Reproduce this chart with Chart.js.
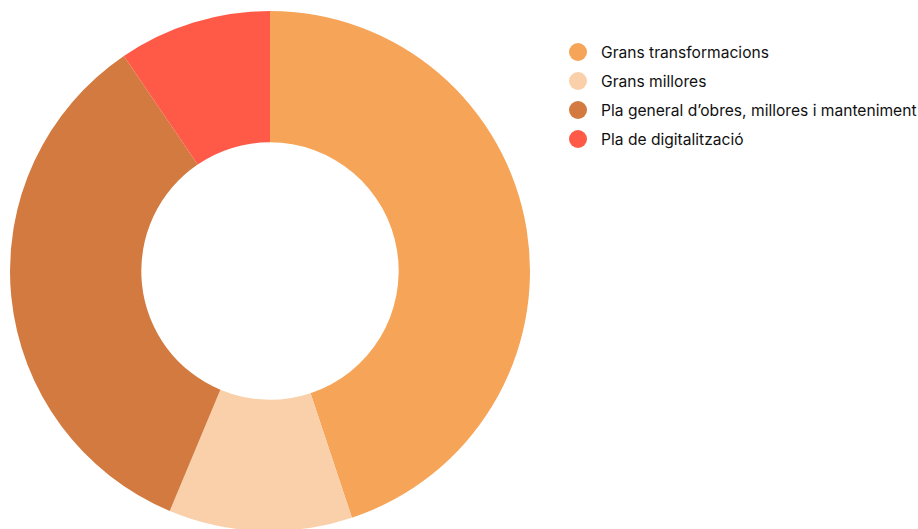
<!DOCTYPE html>
<html lang="ca">
<head>
<meta charset="utf-8">
<title>Inversions</title>
<script src="https://cdn.jsdelivr.net/npm/chart.js@4.4.1/dist/chart.umd.min.js"></script>
<style>
  html, body { margin: 0; padding: 0; background: #fff; overflow: hidden; }
  body { width: 918px; height: 529px; position: relative; font-family: Inter, "Liberation Sans", Arial, sans-serif; }
  #chart-wrap { position: absolute; left: 0; top: 0; width: 540px; height: 542px; }
  #legend { position: absolute; left: 569px; top: 38px; margin: 0; padding: 0; list-style: none; }
  #legend li { display: flex; align-items: center; height: 28.9px; font-size: 15.6px; color: #111; white-space: nowrap; }
  #legend .dot { width: 18px; height: 18px; border-radius: 50%; margin-right: 14px; flex: none; }
</style>
</head>
<body>
<div id="chart-wrap"><canvas id="donut" width="540" height="542"></canvas></div>
<ul id="legend"></ul>
<script>
// Distribució (percentatge aproximat llegit del gràfic)
const categories = [
  'Grans transformacions',
  'Grans millores',
  'Pla general d’obres, millores i manteniment',
  'Pla de digitalització'
];
const shares = [44.9, 11.4, 34.2, 9.5];
const sliceColors = ['#F6A457', '#F9D0A9', '#D27A3F', '#FF5A47'];

document.addEventListener('DOMContentLoaded', () => {
  const chart = new Chart(document.getElementById('donut'), {
    type: 'doughnut',
    data: {
      labels: categories,
      datasets: [{
        data: shares,
        backgroundColor: sliceColors,
        borderWidth: 0,
        hoverOffset: 0
      }]
    },
    options: {
      responsive: false,
      animation: false,
      radius: 260,
      cutout: '49.5%',
      layout: { padding: 0 },
      plugins: {
        legend: { display: false },
        tooltip: { enabled: false }
      }
    }
  });

  // legend built from the chart's own labels
  const legend = document.getElementById('legend');
  chart.options.plugins.legend.labels.generateLabels(chart).forEach(item => {
    const li = document.createElement('li');
    const dot = document.createElement('span');
    dot.className = 'dot';
    dot.style.background = item.fillStyle;
    li.appendChild(dot);
    li.appendChild(document.createTextNode(item.text));
    legend.appendChild(li);
  });
});
</script>
</body>
</html>
